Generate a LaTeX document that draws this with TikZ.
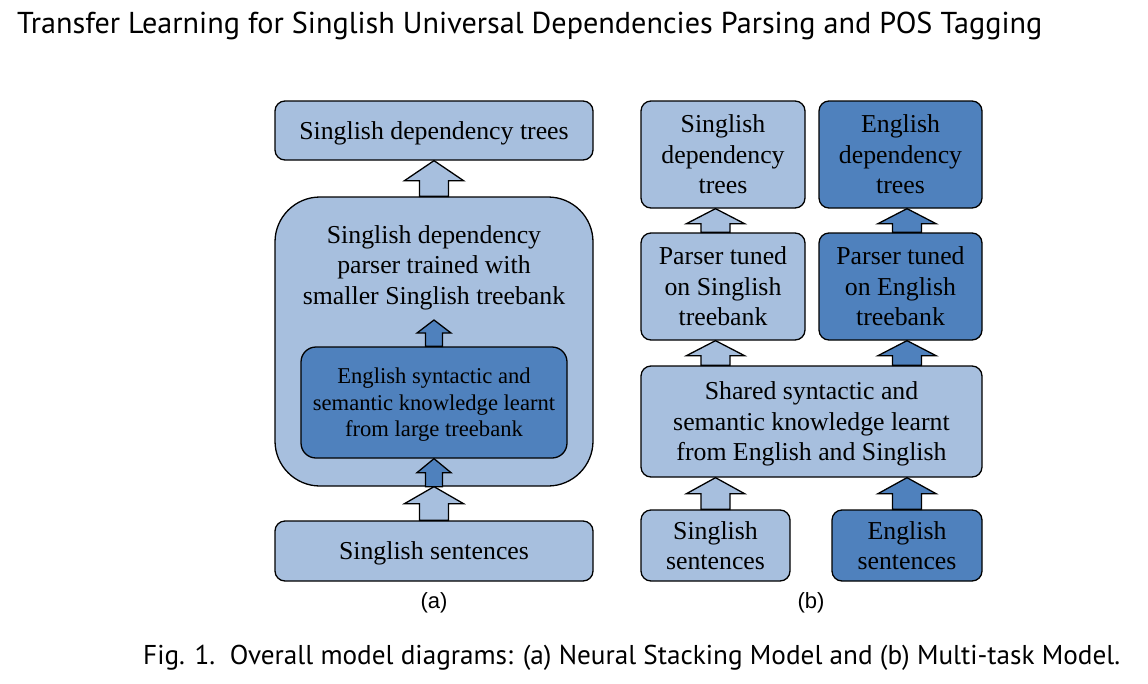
\documentclass[tikz,border=0pt]{standalone}
\usepackage{fontspec}
\setmainfont{Liberation Serif}
\newfontfamily\titlefont{PT Sans}
\newfontfamily\labfont{Liberation Sans}
\usetikzlibrary{calc}
\definecolor{lightb}{HTML}{A7BFDE}
\definecolor{darkb}{HTML}{4F81BD}
% #1 fill, #2 node giving x, #3 bottom point, #4 tip point, #5 shaft half width, #6 head half width, #7 head length
\newcommand\uparr[7]{%
  \draw[arrline, fill=#1] let \p0=(#2), \p1=(#3), \p2=(#4) in
    (\x0-#5,\y1) -- (\x0-#5,\y2-#7) -- (\x0-#6,\y2-#7) -- (\x0,\y2)
    -- (\x0+#6,\y2-#7) -- (\x0+#5,\y2-#7) -- (\x0+#5,\y1) -- cycle;}
\begin{document}
\begin{tikzpicture}[x=1pt,y=-1pt,
  box/.style={draw=black, line width=1.3pt, rounded corners=10pt, inner sep=0pt, align=center,
    text depth=0pt, font=\fontsize{25.8}{30.5}\selectfont},
  lbox/.style={box, fill=lightb},
  dbox/.style={box, fill=darkb},
  small/.style={font=\fontsize{22.6}{26.5}\selectfont},
  arrline/.style={draw=black, line width=1.3pt, line join=miter},
  sub/.style={font=\labfont\fontsize{22}{26}\selectfont},
  ]
\useasboundingbox (0,0) rectangle (1148,683);
\fill[white] (0,0) rectangle (1148,683);

\node[anchor=base west, inner sep=0pt, font=\titlefont\fontsize{30.2}{34}\selectfont] (title) at (17,33)
  {Transfer Learning for Singlish Universal Dependencies Parsing and POS Tagging};
\node[anchor=base west, inner sep=0pt, font=\titlefont\fontsize{27.2}{31}\selectfont] (caption) at (143,664)
  {Fig. 1.\ \ Overall model diagrams: (a) Neural Stacking Model and (b) Multi-task Model.};

% ---------- (a)
\node[lbox, minimum width=318pt, minimum height=59pt] (atop) at (434,130.5) {Singlish dependency trees};
\node[lbox, rounded corners=45pt, minimum width=318pt, minimum height=289pt] (abig) at (434,341.5) {};
\node[align=center, inner sep=0pt, font=\fontsize{25.8}{30.5}\selectfont] (atxt) at (434,267.5)
  {Singlish dependency\\parser trained with\\smaller Singlish treebank};
\node[dbox, small, rounded corners=15pt, minimum width=266pt, minimum height=111pt] (ainner) at (434,402.5)
  {English syntactic and\\semantic knowledge learnt\\from large treebank};
\node[lbox, minimum width=318pt, minimum height=60pt] (abot) at (434,551) {Singlish sentences};
\node[sub] (alab) at (434,603) {(a)};
\coordinate (atip) at (434,320);

\uparr{lightb}{atop}{abig.north}{atop.south}{14.5pt}{29.5pt}{20pt}
\uparr{darkb}{ainner}{ainner.north}{atip}{8.5pt}{17pt}{13pt}
\uparr{darkb}{ainner}{abig.south}{ainner.south}{8.5pt}{17pt}{14pt}
\uparr{lightb}{abot}{abot.north}{abig.south}{14.5pt}{29.5pt}{17pt}

% ---------- (b)
\node[lbox, minimum width=164pt, minimum height=107pt] (bt1) at (723,154.5) {Singlish\\dependency\\trees};
\node[dbox, minimum width=163pt, minimum height=107pt] (bt2) at (900.5,154.5) {English\\dependency\\trees};
\node[lbox, minimum width=164pt, minimum height=107pt] (bm1) at (723,286.5) {Parser tuned\\on Singlish\\treebank};
\node[dbox, minimum width=163pt, minimum height=107pt] (bm2) at (900.5,286.5) {Parser tuned\\on English\\treebank};
\node[lbox, minimum width=341pt, minimum height=111pt] (bsh) at (811.5,421.5)
  {Shared syntactic and\\semantic knowledge learnt\\from English and Singlish};
\node[lbox, minimum width=149pt, minimum height=71pt] (bb1) at (715.5,545.5) {Singlish\\sentences};
\node[dbox, minimum width=150pt, minimum height=71pt] (bb2) at (907,545.5) {English\\sentences};
\node[sub] (blab) at (811,603) {(b)};

\uparr{lightb}{bb1}{bm1.north}{bt1.south}{14.5pt}{29pt}{15pt}
\uparr{darkb}{bb2}{bm2.north}{bt2.south}{14.5pt}{29pt}{15pt}
\uparr{lightb}{bb1}{bsh.north}{bm1.south}{14.5pt}{29pt}{15pt}
\uparr{darkb}{bb2}{bsh.north}{bm2.south}{14.5pt}{29pt}{15pt}
\uparr{lightb}{bb1}{bb1.north}{bsh.south}{14.5pt}{29pt}{16pt}
\uparr{darkb}{bb2}{bb2.north}{bsh.south}{14.5pt}{29pt}{16pt}
\end{tikzpicture}
\end{document}
